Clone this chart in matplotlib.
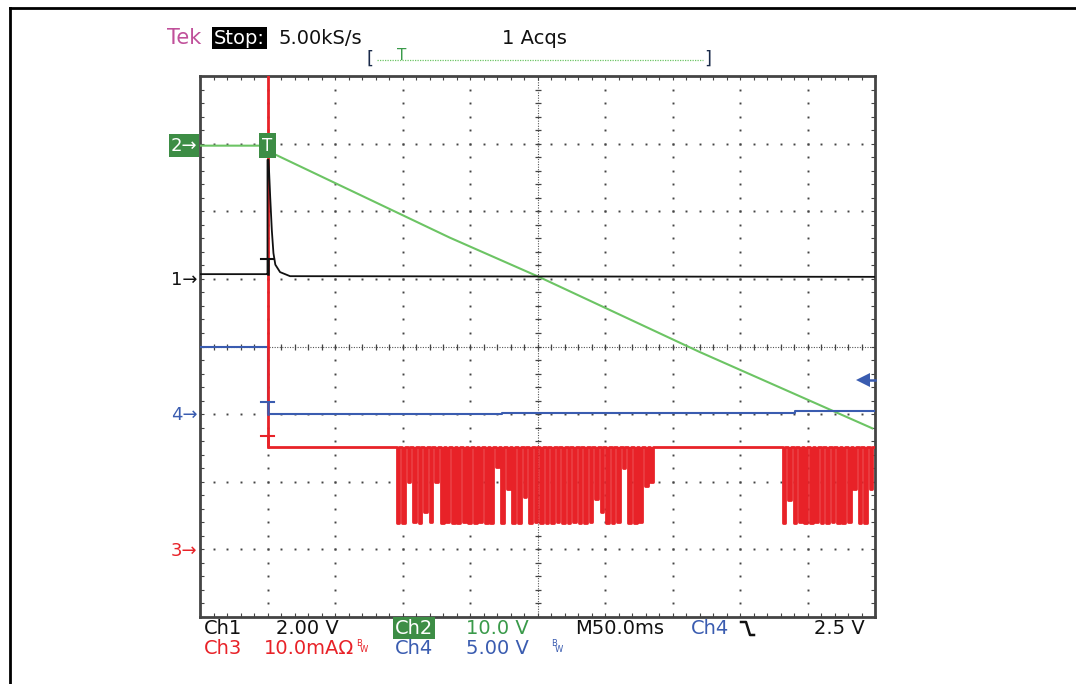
import numpy as np
import matplotlib.pyplot as plt
from matplotlib.lines import Line2D

W, H = 1076, 684

# time axis in ms (M50.0ms -> 50 ms/div), levels in screen divisions
trig_t = 50.0

ch1_t = [0, 49.6, 50.0, 50.0, 50.8, 52.0, 53.2, 54.4, 55.8, 59.3, 66.7, 500]
ch1_v = [1.07, 1.07, 1.07, 2.76, 2.76, 2.21, 1.72, 1.38, 1.21, 1.10, 1.04, 1.03]

ch2_t = [0, 50, 53.5, 185, 251, 370, 498]
ch2_v = [2.97, 2.97, 2.86, 1.61, 1.03, -0.08, -1.21]

ch4_t = [0, 50, 50, 224, 224, 441, 441, 500]
ch4_v = [0.0, 0.0, -1.0, -1.0, -0.985, -0.985, -0.95, -0.95]

ch3_pre = 5.0          # off screen before trigger
ch3_base = -1.49
burst1 = (145.7, 335.6)
burst1_depth = [-2.61, -2.61, -2.0, -2.6, -2.61, -2.44, -2.6, -2.0, -2.61, -2.6,
                -2.61, -2.61, -2.6, -2.61, -2.61, -2.6, -2.61, -2.61, -1.78, -2.61,
                -2.1, -2.61, -2.61, -2.22, -2.61, -2.6, -2.61, -2.61, -2.61, -2.6,
                -2.61, -2.61, -2.6, -2.61, -2.61, -2.6, -2.25, -2.44, -2.61, -2.61,
                -2.6, -1.8, -2.61, -2.61, -2.6, -2.07, -2.0]
burst2 = (431.6, 498.0)
burst2_depth = [-2.61, -2.27, -2.61, -2.6, -2.61, -2.61, -2.6, -2.61, -2.61, -2.6,
                -2.61, -2.61, -2.6, -2.1, -2.61, -2.61, -2.1]
pulse_w = 2.0

# trigger "T" markers: (bar level, trace level, colour)
t_marks = [(1.30, 1.07, '#111111'), (-0.82, -1.0, '#3a5cb0'), (-1.32, -1.49, '#e82228')]

# ground markers left of screen
gnd_labels = ['1', '2', '4', '3']
gnd_levels = [0.98, 2.97, -1.01, -3.02]
gnd_colors = ['#111111', '#ffffff', '#3a5cb0', '#e82228']

col_green = '#6cc464'
col_green_dark = '#3d8d45'
col_blue = '#3a5cb0'
col_red = '#e82228'
col_grid = '#444444'

fig = plt.figure(figsize=(W / 100, H / 100), dpi=100)
ax = fig.add_axes([200 / W, (H - 617) / H, 675 / W, 541 / H])
ax.set_xlim(0, 500)
ax.set_ylim(-4, 4)

# graticule
minor_x = np.arange(0, 501, 10)
minor_y = np.round(np.arange(-4, 4.01, 0.2), 2)
for gx in range(50, 500, 50):
    if gx == 250:
        continue
    ax.plot(np.full(len(minor_y), gx), minor_y, ls='none', marker='s', ms=1.4,
            mew=0, color=col_grid, zorder=1)
for gy in [-3, -2, -1, 1, 2, 3]:
    ax.plot(minor_x, np.full(len(minor_x), gy), ls='none', marker='s', ms=1.4,
            mew=0, color=col_grid, zorder=1)
ax.axvline(250, color='#555555', lw=0.8, ls=(0, (1, 1.3)), zorder=1)
ax.axhline(0, color='#555555', lw=0.8, ls=(0, (1, 1.3)), zorder=1)
ax.plot(np.full(len(minor_y), 250), minor_y, ls='none', marker='_', ms=5,
        mew=0.9, color=col_grid, zorder=1)
ax.plot(minor_x, np.zeros(len(minor_x)), ls='none', marker='|', ms=5,
        mew=0.9, color=col_grid, zorder=1)
ax.set_xticks(minor_x)
ax.set_yticks(minor_y)
ax.tick_params(axis='both', direction='in', length=3, width=0.8, color=col_grid,
               top=True, right=True, labelbottom=False, labelleft=False)
for s in ax.spines.values():
    s.set_color('#444444')
    s.set_linewidth(2)

# Ch2 (green)
ax.plot(ch2_t, ch2_v, color=col_green, lw=1.5, zorder=3)

# Ch4 (blue)
ax.plot(ch4_t, ch4_v, color=col_blue, lw=1.5, zorder=3)

# Ch3 (red) with pulse bursts
rt = [0, trig_t, trig_t]
rv = [ch3_pre, ch3_pre, ch3_base]
for (t0, t1), depths in [(burst1, burst1_depth), (burst2, burst2_depth)]:
    times = np.linspace(t0, t1 - pulse_w, len(depths))
    for tk, d in zip(times, depths):
        rt += [tk, tk, tk + pulse_w, tk + pulse_w]
        rv += [ch3_base, d, d, ch3_base]
rt.append(500)
rv.append(ch3_base)
ax.plot(rt, rv, color=col_red, lw=2.0, zorder=5)
ax.fill_between(rt[2:], rv[2:], ch3_base, color=col_red, lw=0, zorder=5)

# Ch1 (black) drawn over the red trigger edge
ax.plot(ch1_t, ch1_v, color='#111111', lw=1.3, zorder=6)

# trigger T marks
for bar, lvl, c in t_marks:
    ax.plot([trig_t - 4.8, trig_t + 4.8], [bar, bar], color=c, lw=1.5, zorder=6)
    ax.plot([trig_t, trig_t], [bar, lvl], color=c, lw=1.8, zorder=6)

# green T box at trigger
ax.text(trig_t, 2.97, 'T', color='white', fontsize=12, ha='center', va='center',
        zorder=7, bbox=dict(boxstyle='square,pad=0.2', fc=col_green_dark, ec='none'))

# blue trigger level arrow on right edge
ax.plot([491, 500], [-0.5, -0.5], color=col_blue, lw=1.8, zorder=6, clip_on=False)
ax.plot([491], [-0.5], marker='<', ms=10, color=col_blue, mew=0, zorder=6)

# ground markers
for lab, lvl, c in zip(gnd_labels, gnd_levels, gnd_colors):
    kw = {}
    if lab == '2':
        kw['bbox'] = dict(boxstyle='square,pad=0.12', fc=col_green_dark, ec='none')
    ax.text(-0.004, lvl, lab + '\u2192', transform=ax.get_yaxis_transform(),
            color=c, fontsize=13, ha='right', va='center', **kw)


def ftext(x, y, s, size=14, **kw):
    fig.text(x / W, 1 - y / H, s, va='center', ha='left', fontsize=size, **kw)


# header
ftext(167, 38, 'Tek', size=15, color='#c0509a')
ftext(214, 38, 'Stop:', color='white',
      bbox=dict(boxstyle='square,pad=0.1', fc='black', ec='none'))
ftext(279, 38, '5.00kS/s', color='#111111')
ftext(502, 38, '1 Acqs', color='#111111')
ftext(366, 59, '[', size=13, color='#1a2a4a')
ftext(704, 59, ']', size=13, color='#1a2a4a')
fig.add_artist(Line2D([377 / W, 703 / W], [1 - 60 / H] * 2, color=col_green, lw=0.9,
                      ls=(0, (1, 1)), transform=fig.transFigure))
ftext(397, 56, 'T', size=11, color='#3a9a4a')

# footer
ftext(204, 628, 'Ch1', color='#111111')
ftext(276, 628, '2.00 V', color='#111111')
ftext(395, 628, 'Ch2', color='white',
      bbox=dict(boxstyle='square,pad=0.08', fc=col_green_dark, ec='none'))
ftext(466, 628, '10.0 V', color='#3a9a4a')
ftext(575, 628, 'M50.0ms', color='#111111')
ftext(691, 628, 'Ch4', color=col_blue)
ftext(814, 628, '2.5 V', color='#111111')
fig.add_artist(Line2D([741 / W, 746 / W, 750 / W, 754 / W],
                      [1 - 622 / H, 1 - 622 / H, 1 - 635 / H, 1 - 635 / H],
                      color='#111111', lw=1.8, transform=fig.transFigure))

ftext(204, 648, 'Ch3', color=col_red)
ftext(264, 648, '10.0mA\u03a9', color=col_red)
ftext(356, 643, 'B', size=6, color=col_red)
ftext(360, 649, 'W', size=6, color=col_red)
ftext(395, 648, 'Ch4', color=col_blue)
ftext(466, 648, '5.00 V', color=col_blue)
ftext(551, 643, 'B', size=6, color=col_blue)
ftext(555, 649, 'W', size=6, color=col_blue)

# outer frame (top and left)
fig.add_artist(Line2D([10 / W, 1], [1 - 8 / H] * 2, color='black', lw=2,
                      transform=fig.transFigure))
fig.add_artist(Line2D([10 / W, 10 / W], [0, 1 - 8 / H], color='black', lw=2,
                      transform=fig.transFigure))

fig.savefig('out.png', dpi=100)
